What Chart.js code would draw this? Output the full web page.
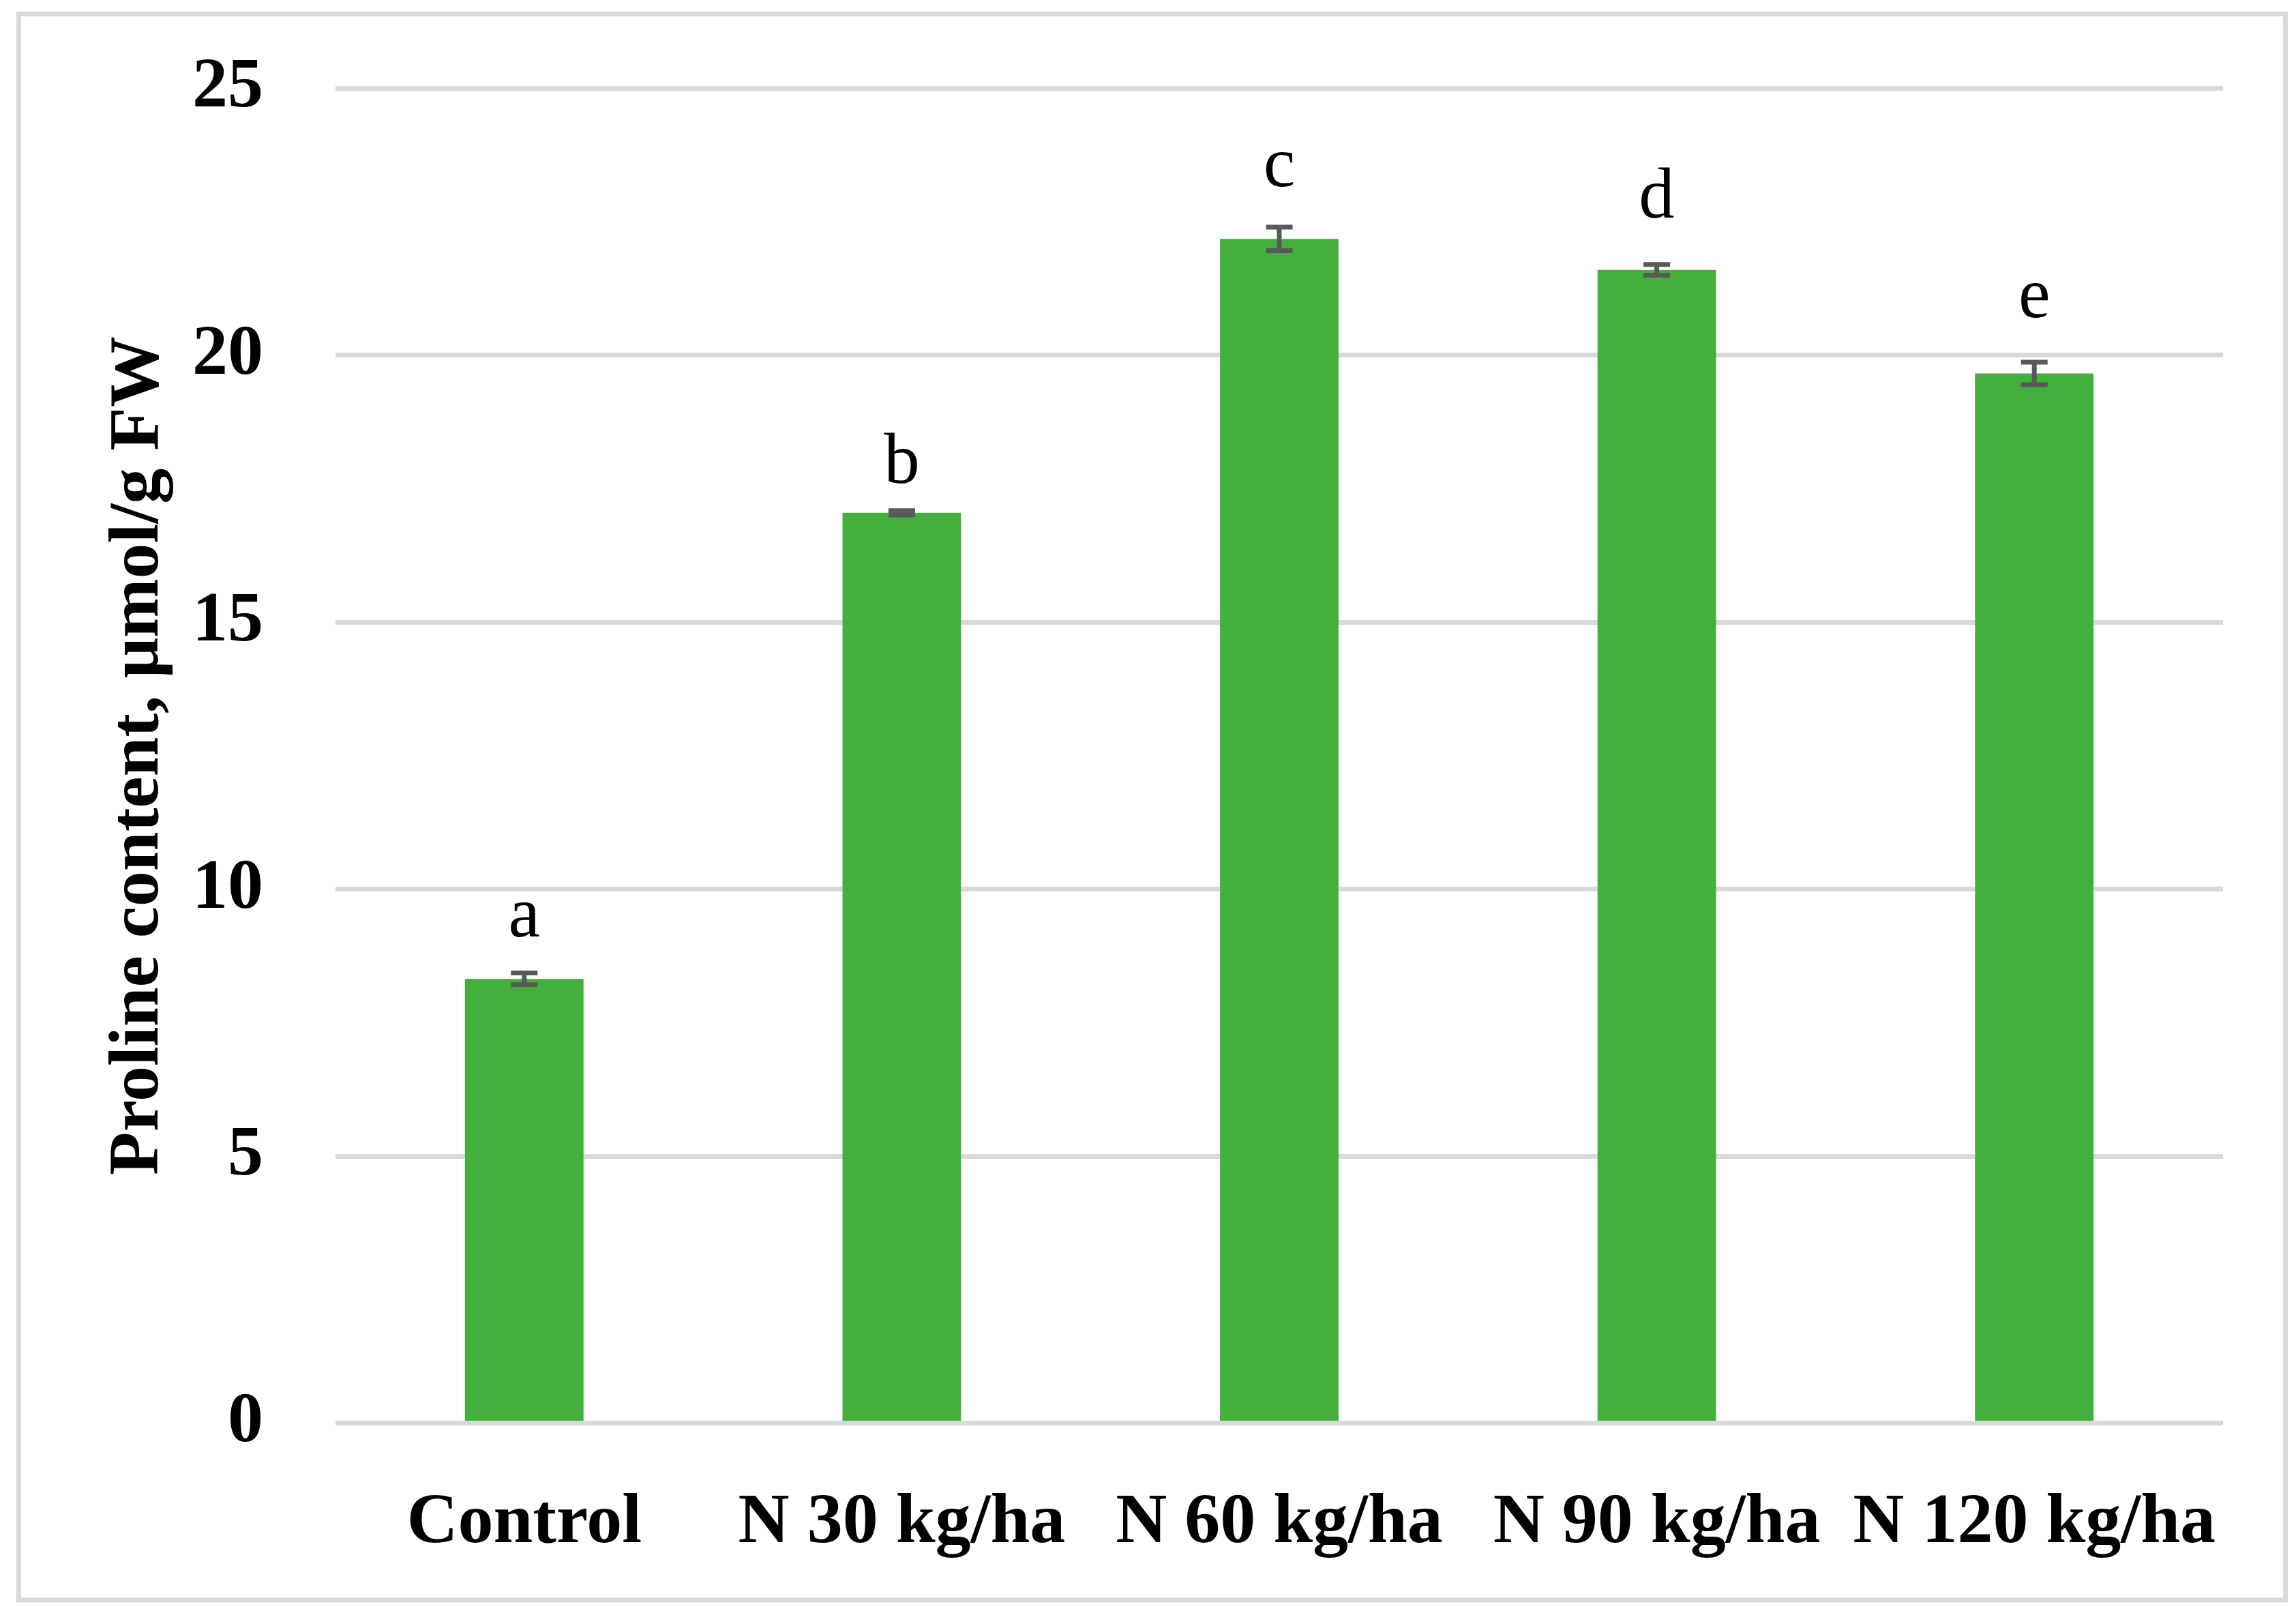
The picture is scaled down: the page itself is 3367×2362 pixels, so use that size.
<!DOCTYPE html>
<html>
<head>
<meta charset="utf-8">
<script src="https://cdn.jsdelivr.net/npm/chart.js@4.4.1/dist/chart.umd.min.js"></script>
<style>
  html, body { margin: 0; padding: 0; background: #ffffff; }
  #wrap { position: absolute; left: 0; top: 0; width: 3367px; height: 2362px; }
</style>
</head>
<body>
<div id="wrap"><canvas id="c" width="3367" height="2362"></canvas></div>
<script>
// ---- data ----
const categories = ["Control", "N 30 kg/ha", "N 60 kg/ha", "N 90 kg/ha", "N 120 kg/ha"];
const prolineValues = [8.32, 17.05, 22.18, 21.60, 19.66];
const prolineErrors = [0.11, 0.04, 0.22, 0.10, 0.21];
const significanceLetters = ["a", "b", "c", "d", "e"];
const letterBaselineValues = [9.12, 17.61, 23.17, 22.58, 20.71];
const yTickValues = [0, 5, 10, 15, 20, 25];
const yAxisTitle = "Proline content, \u03bcmol/g FW";

const FONT = "'Liberation Serif', 'Times New Roman', serif";

const borderPlugin = {
  id: 'outerBorder',
  beforeDraw(chart) {
    const ctx = chart.ctx;
    ctx.save();
    ctx.fillStyle = '#ffffff';
    ctx.fillRect(0, 0, chart.width, chart.height);
    ctx.strokeStyle = '#d9d9d9';
    ctx.lineWidth = 7;
    ctx.strokeRect(27.5, 20.5, 3324, 2325.5);
    ctx.restore();
  }
};

const errorBarPlugin = {
  id: 'errorBars',
  afterDatasetsDraw(chart) {
    const ctx = chart.ctx;
    const meta = chart.getDatasetMeta(0);
    const yScale = chart.scales.y;
    ctx.save();
    ctx.strokeStyle = '#595959';
    ctx.lineWidth = 7;
    ctx.lineCap = 'butt';
    meta.data.forEach((bar, i) => {
      const v = prolineValues[i], e = prolineErrors[i];
      const yTop = yScale.getPixelForValue(v + e);
      const yBot = yScale.getPixelForValue(v - e);
      const x = bar.x;
      const half = 19.5;
      ctx.beginPath();
      ctx.moveTo(x, yTop); ctx.lineTo(x, yBot);
      ctx.moveTo(x - half, yTop); ctx.lineTo(x + half, yTop);
      ctx.moveTo(x - half, yBot); ctx.lineTo(x + half, yBot);
      ctx.stroke();
    });
    ctx.fillStyle = '#000000';
    ctx.font = "105px " + FONT;
    ctx.textAlign = 'center';
    ctx.textBaseline = 'alphabetic';
    meta.data.forEach((bar, i) => {
      ctx.fillText(significanceLetters[i], bar.x, yScale.getPixelForValue(letterBaselineValues[i]));
    });
    ctx.restore();
  }
};

new Chart(document.getElementById('c'), {
  type: 'bar',
  data: {
    labels: categories,
    datasets: [{
      data: prolineValues,
      backgroundColor: '#44b03c',
      borderWidth: 0,
      barPercentage: 0.628,
      categoryPercentage: 0.5
    }]
  },
  options: {
    responsive: false,
    devicePixelRatio: 1,
    animation: false,
    layout: { padding: { left: 0, right: 107, top: 129.5, bottom: 0 } },
    plugins: { legend: { display: false }, tooltip: { enabled: false } },
    scales: {
      x: {
        grid: { display: false, drawTicks: false },
        border: { display: false },
        ticks: {
          color: '#000000',
          font: { family: FONT, size: 104, weight: 'bold' },
          padding: 85,
          maxRotation: 0,
          autoSkip: false
        },
        afterFit(scale) {
          scale.height = 275.5;
          scale.paddingLeft = 0; scale.paddingRight = 0;
          scale.paddingTop = 0; scale.paddingBottom = 0;
        }
      },
      y: {
        min: 0,
        max: 25,
        afterBuildTicks(scale) { scale.ticks = yTickValues.map(v => ({ value: v })); },
        grid: { color: '#d9d9d9', lineWidth: 7, drawTicks: false },
        border: { display: false },
        ticks: {
          color: '#000000',
          font: { family: FONT, size: 104, weight: 'bold' },
          padding: 106
        },
        title: {
          display: true,
          text: yAxisTitle,
          color: '#000000',
          font: { family: FONT, size: 104, weight: 'bold' },
          padding: { top: 142, bottom: 0 }
        },
        afterFit(scale) {
          scale.width = 492;
          scale.paddingTop = 0; scale.paddingBottom = 0;
          scale.paddingLeft = 0; scale.paddingRight = 0;
        }
      }
    }
  },
  plugins: [borderPlugin, errorBarPlugin]
});
</script>
</body>
</html>
